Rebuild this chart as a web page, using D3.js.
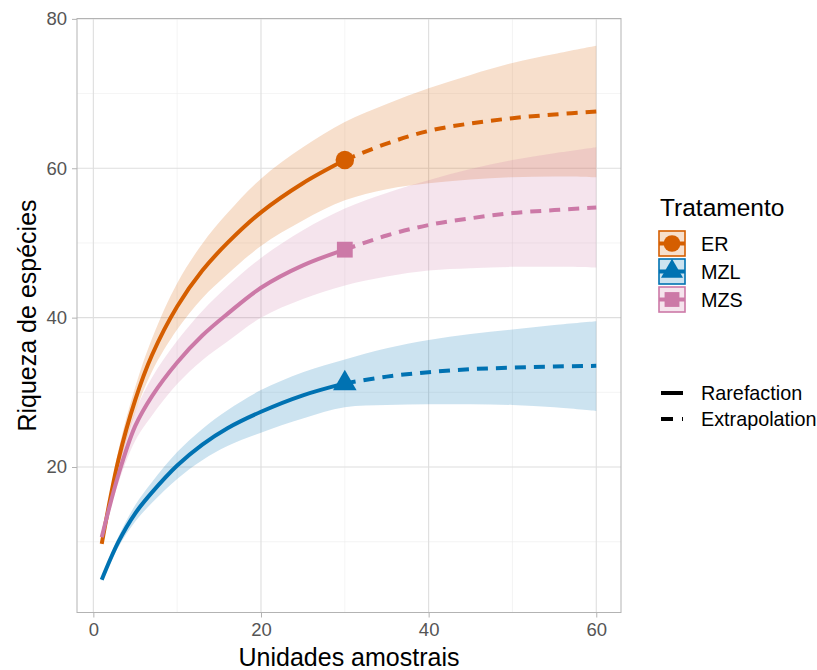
<!DOCTYPE html>
<html>
<head>
<meta charset="utf-8">
<script src="https://cdn.jsdelivr.net/npm/d3@7"></script>
<style>
  body { margin: 0; background: #fff; }
  text { font-family: "Liberation Sans", Arial, sans-serif; }
</style>
</head>
<body>
<svg id="chart" width="817" height="670"></svg>
<script>
// sample sizes (units) - observed at 30, extrapolated up to 60
var units = [1, 3, 5, 7, 10, 13, 16, 20, 25, 30, 35, 40, 45, 50, 55, 60];
var observedIdx = 9;

var groups = ["ER", "MZL", "MZS"];

// ER
var erEst = [9.7, 21, 29, 35, 41.5, 46.3, 50, 54.1, 58, 61.1, 63.3, 65.0, 66.0, 66.7, 67.2, 67.6];
var erLo  = [9.4, 19.7, 27.3, 32.8, 38.4, 42.6, 45.8, 49.6, 53, 55.7, 57.2, 58.0, 58.5, 58.8, 58.9, 58.8];
var erHi  = [10.0, 22.3, 30.7, 37.2, 44.6, 49.9, 54.0, 58.6, 62.8, 66.2, 68.6, 70.7, 72.5, 74.1, 75.3, 76.4];
// MZL
var mzlEst = [4.9, 10, 13.8, 16.6, 20.2, 23.0, 25.2, 27.4, 29.6, 31.2, 32.1, 32.7, 33.1, 33.3, 33.45, 33.55];
var mzlLo  = [4.7, 9.3, 12.7, 15.2, 18.4, 20.9, 22.8, 24.6, 26.5, 28.0, 28.3, 28.4, 28.4, 28.3, 28.0, 27.5];
var mzlHi  = [5.1, 10.7, 14.9, 18.0, 22.0, 25.1, 27.6, 30.3, 32.7, 34.4, 35.9, 37.0, 37.8, 38.4, 39.0, 39.5];
// MZS
var mzsEst = [10.6, 19, 25.5, 29.5, 34, 37.6, 40.5, 44, 47, 49.1, 51, 52.4, 53.3, 54.0, 54.4, 54.75];
var mzsLo  = [10.4, 17.9, 23.5, 26.9, 31.1, 34.3, 36.8, 40, 42.5, 44.3, 45.5, 46.3, 46.6, 46.8, 46.8, 46.7];
var mzsHi  = [10.8, 20.1, 27.4, 32.0, 36.9, 40.9, 44.2, 48.0, 51.7, 54.6, 56.7, 58.4, 59.9, 61.1, 62.0, 62.8];

var xTicks = [0, 20, 40, 60];
var yTicks = [20, 40, 60, 80];
var methods = ["Rarefaction", "Extrapolation"];

var colors = {ER: "#D55E00", MZL: "#0072B2", MZS: "#CC79A7"};
var shapes = {ER: d3.symbolCircle, MZL: d3.symbolTriangle, MZS: d3.symbolSquare};

var series = [
  {name: "ER", est: erEst, lo: erLo, hi: erHi},
  {name: "MZL", est: mzlEst, lo: mzlLo, hi: mzlHi},
  {name: "MZS", est: mzsEst, lo: mzsLo, hi: mzsHi}
];

var margin = {top: 18.5, right: 196, bottom: 57.5, left: 77},
    width = 817 - margin.left - margin.right,
    height = 670 - margin.top - margin.bottom;

var x = d3.scaleLinear().domain([-1.95, 62.95]).range([0, width]);
var y = d3.scaleLinear().domain([0.52, 80.05]).range([height, 0]);

var svg = d3.select("#chart");
var chart = svg.append("g")
    .attr("transform", "translate(" + margin.left + "," + margin.top + ")");

// grid
chart.selectAll(".minor-x").data([10, 30, 50]).enter().append("line")
    .attr("x1", d => x(d)).attr("x2", d => x(d)).attr("y1", 0).attr("y2", height)
    .attr("stroke", "#EDEDED").attr("stroke-width", 0.6);
chart.selectAll(".minor-y").data([10, 30, 50, 70]).enter().append("line")
    .attr("y1", d => y(d)).attr("y2", d => y(d)).attr("x1", 0).attr("x2", width)
    .attr("stroke", "#EDEDED").attr("stroke-width", 0.6);
chart.selectAll(".major-x").data(xTicks).enter().append("line")
    .attr("x1", d => x(d)).attr("x2", d => x(d)).attr("y1", 0).attr("y2", height)
    .attr("stroke", "#DEDEDE").attr("stroke-width", 1.1);
chart.selectAll(".major-y").data(yTicks).enter().append("line")
    .attr("y1", d => y(d)).attr("y2", d => y(d)).attr("x1", 0).attr("x2", width)
    .attr("stroke", "#DEDEDE").attr("stroke-width", 1.1);

var pts = function (s) {
  return units.map(function (u, i) { return {x: u, est: s.est[i], lo: s.lo[i], hi: s.hi[i]}; });
};

var smooth = d3.curveCatmullRom.alpha(0.5);
var area = d3.area()
    .x(d => x(d.x)).y0(d => y(d.lo)).y1(d => y(d.hi))
    .curve(smooth);
var line = d3.line()
    .x(d => x(d.x)).y(d => y(d.est))
    .curve(smooth);

// ribbons
series.forEach(function (s) {
  chart.append("path")
      .datum(pts(s))
      .attr("d", area)
      .attr("fill", colors[s.name])
      .attr("fill-opacity", 0.2);
});

// lines
series.forEach(function (s) {
  var p = pts(s);
  chart.append("path")
      .datum(p.slice(0, observedIdx + 1))
      .attr("d", line)
      .attr("fill", "none")
      .attr("stroke", colors[s.name])
      .attr("stroke-width", 4);
  chart.append("path")
      .datum(p.slice(observedIdx))
      .attr("d", line)
      .attr("fill", "none")
      .attr("stroke", colors[s.name])
      .attr("stroke-width", 4)
      .attr("stroke-dasharray", "11,8");
});

// observed points
series.forEach(function (s) {
  var sz = s.name === "ER" ? 270 : (s.name === "MZL" ? 240 : 250);
  chart.append("path")
      .attr("d", d3.symbol().type(shapes[s.name]).size(sz))
      .attr("transform", "translate(" + x(units[observedIdx]) + "," + y(s.est[observedIdx]) + ")")
      .attr("fill", colors[s.name]);
});

// panel border
chart.append("rect")
    .attr("width", width).attr("height", height)
    .attr("fill", "none").attr("stroke", "#B3B3B3").attr("stroke-width", 1);

// axes
var xAxis = d3.axisBottom(x).tickValues(xTicks).tickSize(5).tickPadding(5);
var yAxis = d3.axisLeft(y).tickValues(yTicks).tickSize(5).tickPadding(5);

var gx = chart.append("g")
    .attr("transform", "translate(0," + height + ")")
    .call(xAxis);
var gy = chart.append("g").call(yAxis);
[gx, gy].forEach(function (g) {
  g.select(".domain").remove();
  g.selectAll(".tick line").attr("stroke", "#B3B3B3");
  g.selectAll(".tick text")
      .attr("fill", "#555555")
      .style("font-size", "18.5px")
      .style("font-family", "'Liberation Sans', Arial, sans-serif");
});

// axis titles
svg.append("text")
    .attr("x", margin.left + width / 2)
    .attr("y", 666)
    .attr("text-anchor", "middle")
    .style("font-size", "25px")
    .text("Unidades amostrais");

svg.append("text")
    .attr("transform", "translate(36," + (margin.top + height / 2) + ") rotate(-90)")
    .attr("text-anchor", "middle")
    .style("font-size", "25px")
    .text("Riqueza de espécies");

// legend: groups
var legend = svg.append("g").attr("transform", "translate(658,0)");
legend.append("text")
    .attr("x", 2).attr("y", 216)
    .style("font-size", "24.5px")
    .text("Tratamento");

groups.forEach(function (g, i) {
  var top = 230 + i * 28;
  var key = legend.append("g").attr("transform", "translate(0," + top + ")");
  key.append("rect")
      .attr("x", 1).attr("y", 1).attr("width", 26).attr("height", 25)
      .attr("fill", colors[g]).attr("fill-opacity", 0.2)
      .attr("stroke", colors[g]).attr("stroke-width", 1.6);
  key.append("line")
      .attr("x1", 1).attr("x2", 27).attr("y1", 13.5).attr("y2", 13.5)
      .attr("stroke", colors[g]).attr("stroke-width", 4);
  key.append("path")
      .attr("d", d3.symbol().type(shapes[g]).size(g === "MZL" ? 210 : 220))
      .attr("transform", "translate(14,13.5)")
      .attr("fill", colors[g]);
  key.append("text")
      .attr("x", 43).attr("y", 21)
      .style("font-size", "19.8px")
      .text(g);
});

// legend: method
methods.forEach(function (m, i) {
  var yy = 393 + i * 26;
  var k = legend.append("g").attr("transform", "translate(0," + yy + ")");
  k.append("line")
      .attr("x1", 3).attr("x2", 25).attr("y1", 0).attr("y2", 0)
      .attr("stroke", "#000").attr("stroke-width", 4)
      .attr("stroke-dasharray", i === 0 ? null : "12,9");
  k.append("text")
      .attr("x", 43).attr("y", 7)
      .style("font-size", "19.8px")
      .text(m);
});
</script>
</body>
</html>
